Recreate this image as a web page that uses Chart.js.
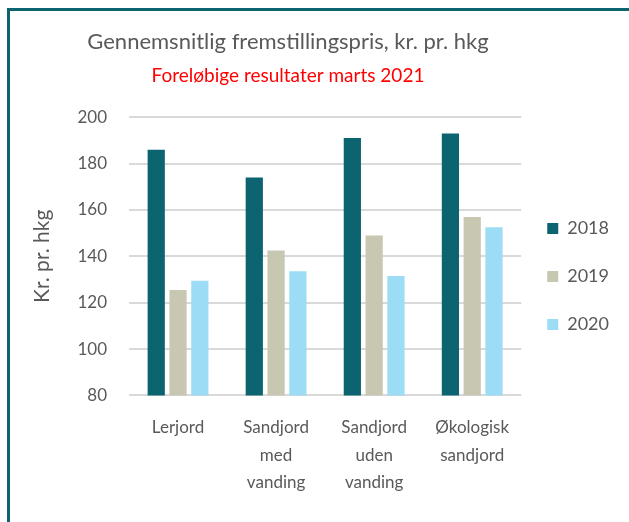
<!DOCTYPE html>
<html lang="da">
<head>
  <meta charset="UTF-8" />
  <title>Gennemsnitlig fremstillingspris</title>
  <script src="https://cdn.jsdelivr.net/npm/chart.js"></script>
  <style>
    html, body { margin: 0; padding: 0; background: #fff; overflow: hidden; }
    #wrap { position: relative; width: 629px; height: 522px; }
    /* rammen rundt om diagrammet */
    #frame {
      position: absolute; left: 7px; top: 8px; width: 640px; height: 540px;
      border-left: 3px solid #0b6470; border-top: 3px solid #0b6470;
    }
    #chart { position: absolute; left: 0; top: 0; }
  </style>
</head>
<body>
<div id="wrap">
  <div id="frame"></div>
  <canvas id="chart" width="629" height="522"></canvas>
</div>
<script>
  const categories = ['Lerjord', ['Sandjord', 'med', 'vanding'], ['Sandjord', 'uden', 'vanding'], ['Økologisk', 'sandjord']];
  const years = ['2018', '2019', '2020'];
  const values2018 = [186, 174, 191, 193];
  const values2019 = [125.5, 142.5, 149, 157];
  const values2020 = [129.5, 133.5, 131.5, 152.5];
  const colors = ['#0b6470', '#c8c7b2', '#9ddcf5'];

  const FONT = 'Lato, "Open Sans", sans-serif';
  const GREY = '#595959';

  // flyt titler og legende lidt, som i Excel-originalen
  const nudge = {
    id: 'nudge',
    afterLayout(chart) {
      chart.boxes.forEach(b => {
        if (b.options && b.options.text !== undefined && b.position === 'top') {
          b.left = 10;
          b.right = 566;
        }
      });
      const lg = chart.legend;
      lg.top += 23; lg.bottom += 23;
      lg.left -= 4; lg.right -= 4;
    }
  };

  new Chart(document.getElementById('chart'), {
    type: 'bar',
    data: {
      labels: categories,
      datasets: [
        { label: years[0], data: values2018, backgroundColor: colors[0] },
        { label: years[1], data: values2019, backgroundColor: colors[1] },
        { label: years[2], data: values2020, backgroundColor: colors[2] }
      ]
    },
    options: {
      responsive: false,
      animation: false,
      categoryPercentage: 0.667,
      barPercentage: 0.79,
      layout: { padding: { left: 10, right: 6, top: 0, bottom: 15 } },
      plugins: {
        title: {
          display: true,
          text: 'Gennemsnitlig fremstillingspris, kr. pr. hkg',
          color: GREY,
          font: { family: FONT, size: 22, weight: 'normal', lineHeight: 1.2 },
          padding: { top: 29, bottom: 9 }
        },
        subtitle: {
          display: true,
          text: 'Foreløbige resultater marts 2021',
          color: '#ff0000',
          font: { family: FONT, size: 19, weight: 'normal', lineHeight: 1.2 },
          padding: { top: 0, bottom: 30 }
        },
        legend: {
          position: 'right',
          labels: {
            color: GREY,
            font: { family: FONT, size: 18 },
            boxWidth: 11,
            boxHeight: 11,
            padding: 30
          }
        },
        tooltip: { enabled: false }
      },
      scales: {
        x: {
          grid: { display: false },
          border: { display: false },
          ticks: {
            color: GREY,
            font: { family: FONT, size: 17, lineHeight: 1.6 },
            padding: 11,
            maxRotation: 0,
            autoSkip: false
          }
        },
        y: {
          min: 80,
          max: 200,
          ticks: {
            stepSize: 20,
            color: GREY,
            font: { family: FONT, size: 17 },
            padding: 22
          },
          grid: { color: '#d9d9d9', lineWidth: 2, drawTicks: false },
          border: { display: false },
          title: {
            display: true,
            text: 'Kr. pr. hkg',
            color: GREY,
            font: { family: FONT, size: 21 },
            padding: { top: 20, bottom: 0 }
          },
          afterFit(scale) { scale.width = 119; }
        }
      }
    },
    plugins: [nudge]
  });
</script>
</body>
</html>
